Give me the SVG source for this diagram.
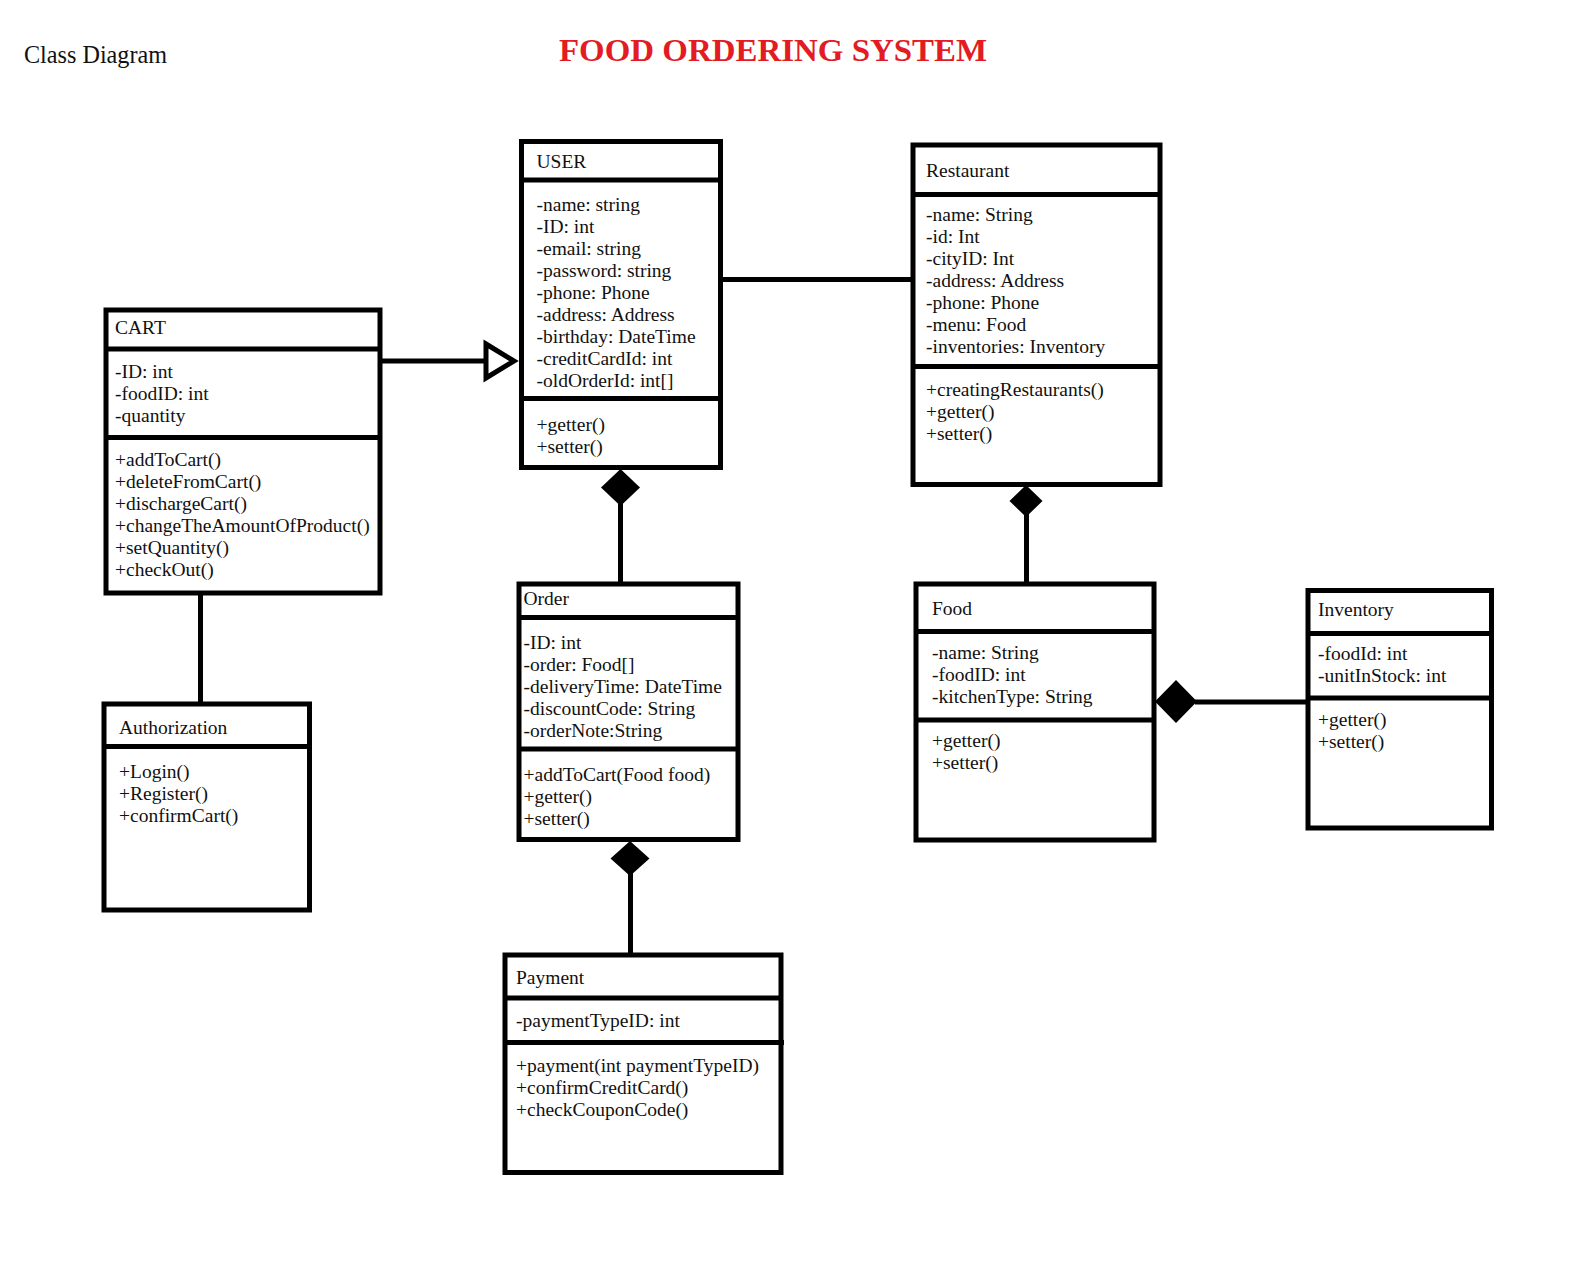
<svg xmlns="http://www.w3.org/2000/svg" width="1576" height="1262" viewBox="0 0 1576 1262">
<style>
.box{fill:#fff;stroke:#000;stroke-width:5}
.div{stroke:#000;stroke-width:5}
.t{font-family:"Liberation Serif","Times New Roman",serif;font-size:19.5px;fill:#111}
.con{stroke:#000;stroke-width:5;fill:none}
.dia{fill:#000;stroke:none}
.gen{fill:#fff;stroke:#000;stroke-width:5;stroke-linejoin:miter}
</style>
<rect x="0" y="0" width="1576" height="1262" fill="#fff"/>
<text x="24" y="63" font-family="Liberation Serif, Times New Roman, serif" font-size="25" fill="#111" textLength="143" lengthAdjust="spacingAndGlyphs">Class Diagram</text>
<text x="559" y="61" font-family="Liberation Serif, Times New Roman, serif" font-size="32" font-weight="bold" fill="#e31b23" textLength="428" lengthAdjust="spacingAndGlyphs">FOOD ORDERING SYSTEM</text>

<g id="connectors">
<line class="con" x1="380" y1="361" x2="486" y2="361"/>
<polygon class="gen" points="486,344 514,361 486,378"/>
<line class="con" x1="720.5" y1="279.5" x2="913" y2="279.5"/>
<line class="con" x1="620.5" y1="504" x2="620.5" y2="584"/>
<polygon class="dia" points="620.5,469 640,487.5 620.5,506 601,487.5"/>
<line class="con" x1="1026.5" y1="514" x2="1026.5" y2="584"/>
<polygon class="dia" points="1026,485 1042.5,501 1026,517 1009.5,501"/>
<line class="con" x1="630.5" y1="873" x2="630.5" y2="955"/>
<polygon class="dia" points="630,841 649.5,858.5 630,876 610.5,858.5"/>
<line class="con" x1="1195" y1="702" x2="1308" y2="702"/>
<polygon class="dia" points="1176,680 1197,701.5 1176,723 1155,701.5"/>
<line class="con" x1="200.5" y1="593" x2="200.5" y2="704"/>
</g>

<g id="user">
<rect class="box" x="521.5" y="141.5" width="199" height="326"/>
<line class="div" x1="521.5" y1="180" x2="720.5" y2="180"/>
<line class="div" x1="521.5" y1="398.5" x2="720.5" y2="398.5"/>
<text class="t" x="536.5" y="167.5">USER</text>
<text class="t" x="536.5" y="211">-name: string</text>
<text class="t" x="536.5" y="233">-ID: int</text>
<text class="t" x="536.5" y="255">-email: string</text>
<text class="t" x="536.5" y="277">-password: string</text>
<text class="t" x="536.5" y="299">-phone: Phone</text>
<text class="t" x="536.5" y="320.5">-address: Address</text>
<text class="t" x="536.5" y="342.5">-birthday: DateTime</text>
<text class="t" x="536.5" y="364.5">-creditCardId: int</text>
<text class="t" x="536.5" y="386.5">-oldOrderId: int[]</text>
<text class="t" x="536.5" y="430.5">+getter()</text>
<text class="t" x="536.5" y="452.5">+setter()</text>
</g>

<g id="restaurant">
<rect class="box" x="913" y="145" width="247" height="339.5"/>
<line class="div" x1="913" y1="194.5" x2="1160" y2="194.5"/>
<line class="div" x1="913" y1="366.5" x2="1160" y2="366.5"/>
<text class="t" x="926" y="177">Restaurant</text>
<text class="t" x="926" y="220.5">-name: String</text>
<text class="t" x="926" y="242.5">-id: Int</text>
<text class="t" x="926" y="264.5">-cityID: Int</text>
<text class="t" x="926" y="286.5">-address: Address</text>
<text class="t" x="926" y="308.5">-phone: Phone</text>
<text class="t" x="926" y="330.5">-menu: Food</text>
<text class="t" x="926" y="352.5">-inventories: Inventory</text>
<text class="t" x="926" y="396">+creatingRestaurants()</text>
<text class="t" x="926" y="418">+getter()</text>
<text class="t" x="926" y="440">+setter()</text>
</g>

<g id="cart">
<rect class="box" x="106" y="310" width="274" height="283"/>
<line class="div" x1="106" y1="349" x2="380" y2="349"/>
<line class="div" x1="106" y1="437.5" x2="380" y2="437.5"/>
<text class="t" x="115" y="333.5">CART</text>
<text class="t" x="115" y="378">-ID: int</text>
<text class="t" x="115" y="400">-foodID: int</text>
<text class="t" x="115" y="422">-quantity</text>
<text class="t" x="115" y="466">+addToCart()</text>
<text class="t" x="115" y="488">+deleteFromCart()</text>
<text class="t" x="115" y="510">+dischargeCart()</text>
<text class="t" x="115" y="532">+changeTheAmountOfProduct()</text>
<text class="t" x="115" y="554">+setQuantity()</text>
<text class="t" x="115" y="576">+checkOut()</text>
</g>

<g id="authorization">
<rect class="box" x="104" y="704" width="205.5" height="206"/>
<line class="div" x1="104" y1="746.5" x2="309.5" y2="746.5"/>
<text class="t" x="119" y="734">Authorization</text>
<text class="t" x="119" y="778">+Login()</text>
<text class="t" x="119" y="800">+Register()</text>
<text class="t" x="119" y="822">+confirmCart()</text>
</g>

<g id="order">
<rect class="box" x="519" y="584" width="219" height="255.5"/>
<line class="div" x1="519" y1="617.5" x2="738" y2="617.5"/>
<line class="div" x1="519" y1="749" x2="738" y2="749"/>
<text class="t" x="523.5" y="605">Order</text>
<text class="t" x="523.5" y="648.5">-ID: int</text>
<text class="t" x="523.5" y="670.5">-order: Food[]</text>
<text class="t" x="523.5" y="692.5">-deliveryTime: DateTime</text>
<text class="t" x="523.5" y="714.5">-discountCode: String</text>
<text class="t" x="523.5" y="736.5">-orderNote:String</text>
<text class="t" x="523.5" y="781">+addToCart(Food food)</text>
<text class="t" x="523.5" y="803">+getter()</text>
<text class="t" x="523.5" y="825">+setter()</text>
</g>

<g id="food">
<rect class="box" x="916" y="584" width="238" height="256"/>
<line class="div" x1="916" y1="631.5" x2="1154" y2="631.5"/>
<line class="div" x1="916" y1="720" x2="1154" y2="720"/>
<text class="t" x="932" y="614.5">Food</text>
<text class="t" x="932" y="658.5">-name: String</text>
<text class="t" x="932" y="680.5">-foodID: int</text>
<text class="t" x="932" y="702.5">-kitchenType: String</text>
<text class="t" x="932" y="746.5">+getter()</text>
<text class="t" x="932" y="768.5">+setter()</text>
</g>

<g id="inventory">
<rect class="box" x="1308" y="590.5" width="183.5" height="237.5"/>
<line class="div" x1="1308" y1="633.5" x2="1491.5" y2="633.5"/>
<line class="div" x1="1308" y1="698" x2="1491.5" y2="698"/>
<text class="t" x="1318" y="615.5">Inventory</text>
<text class="t" x="1318" y="660">-foodId: int</text>
<text class="t" x="1318" y="682">-unitInStock: int</text>
<text class="t" x="1318" y="726">+getter()</text>
<text class="t" x="1318" y="748">+setter()</text>
</g>

<g id="payment">
<rect class="box" x="505" y="955" width="276" height="217.5"/>
<line class="div" x1="505" y1="998" x2="781" y2="998"/>
<line class="div" x1="505" y1="1042.5" x2="784" y2="1042.5"/>
<text class="t" x="516" y="984">Payment</text>
<text class="t" x="516" y="1026.5">-paymentTypeID: int</text>
<text class="t" x="516" y="1071.5">+payment(int paymentTypeID)</text>
<text class="t" x="516" y="1093.5">+confirmCreditCard()</text>
<text class="t" x="516" y="1115.5">+checkCouponCode()</text>
</g>
</svg>
